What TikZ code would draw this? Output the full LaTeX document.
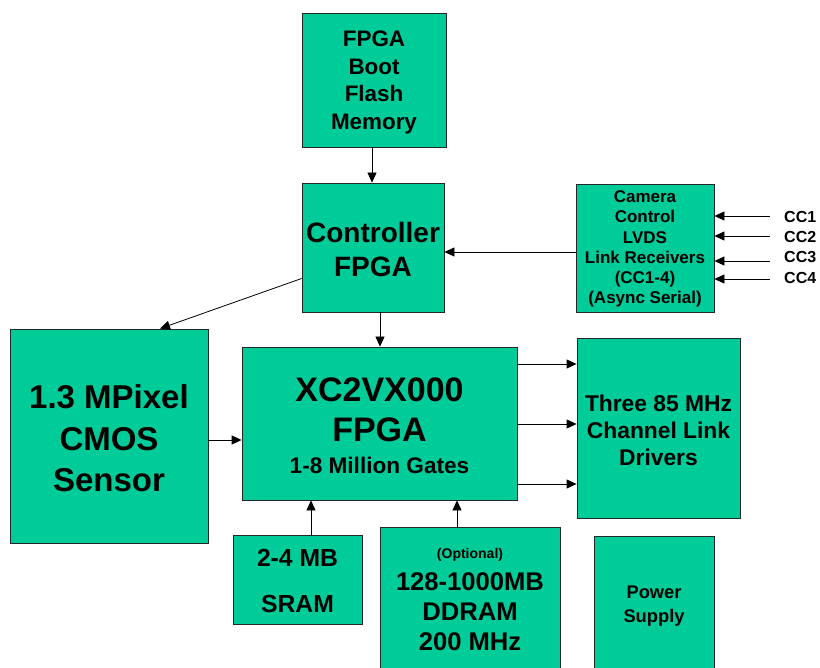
\documentclass[tikz,border=0pt]{standalone}
\usepackage{fontspec}
\setmainfont{Liberation Sans}
\usetikzlibrary{arrows.meta}
\definecolor{boxgreen}{HTML}{00CC99}
\tikzset{
  box/.style={draw=black!85, line width=0.8pt, fill=boxgreen, inner sep=0pt},
  txt/.style={inner sep=0pt, align=center},
  fs/.style 2 args={font=\bfseries\fontsize{#1}{#2}\selectfont},
  arr/.style={draw=black, line width=0.8pt, -{Triangle[length=10pt,width=9pt]}},
  cclabel/.style={inner sep=0pt, anchor=west, font=\bfseries\fontsize{16}{19}\selectfont}
}
\begin{document}
\begin{tikzpicture}[x=1pt,y=-1pt]
\useasboundingbox (0,0) rectangle (820,668);
% boxes
\node[box, minimum width=144pt, minimum height=134pt] (flash) at (374,80) {};
\node[box, minimum width=142pt, minimum height=129pt] (ctrl) at (373,247.5) {};
\node[box, minimum width=138pt, minimum height=128pt] (cam) at (645,248) {};
\node[box, minimum width=198pt, minimum height=214pt] (sensor) at (109,436) {};
\node[box, minimum width=275pt, minimum height=153pt] (xc) at (379.5,423.5) {};
\node[box, minimum width=163pt, minimum height=180pt] (three) at (658.5,428) {};
\node[box, minimum width=129pt, minimum height=89pt] (sram) at (297.5,579.5) {};
\node[box, minimum width=180pt, minimum height=143pt] (ddram) at (470,598.5) {};
\node[box, minimum width=120pt, minimum height=134pt] (power) at (654,603) {};
% box texts
\node[txt, fs={22.4}{27.5}] (flash-t) at (374,82.5) {FPGA\\Boot\\Flash\\Memory};
\node[txt, fs={28}{34}] (ctrl-t) at (373,249.5) {Controller\\FPGA};
\node[txt, fs={17}{20.2}] (cam-t) at (645,249) {Camera\\Control\\LVDS\\Link Receivers\\(CC1-4)\\(Async Serial)};
\node[txt, fs={33}{41.5}] (sensor-t) at (109,438.5) {1.3 MPixel\\CMOS\\Sensor};
\node[txt, fs={34}{40}] (xc-t) at (379.5,426) {XC2VX000\\FPGA\\[-8pt]{\fontsize{22.6}{27}\selectfont 1-8 Million Gates}};
\node[txt, fs={22.8}{27}] (three-t) at (658.5,430) {Three 85 MHz\\Channel Link\\Drivers};
\node[txt, fs={24.7}{46}] (sram-t) at (297.5,581) {2-4 MB\\SRAM};
\node[txt, fs={25.6}{30}] (ddram-t) at (470,599.5) {{\fontsize{14}{17}\selectfont (Optional)}\\[1.2pt]128-1000MB\\DDRAM\\200 MHz};
\node[txt, fs={18.3}{24}] (power-t) at (654,606) {Power\\Supply};
% CC labels
\node[cclabel] (cc1) at (784,217) {CC1};
\node[cclabel] (cc2) at (784,237) {CC2};
\node[cclabel] (cc3) at (784,257) {CC3};
\node[cclabel] (cc4) at (784,278) {CC4};
% connectors
\draw[arr] ([xshift=-2pt]flash.south) -- ([xshift=-2pt]flash.south |- ctrl.north);
\draw[arr] ([yshift=-4pt]cam.west) -- ([yshift=-4pt]cam.west -| ctrl.east);
\draw[arr] ([yshift=-31pt]ctrl.west) -- ([xshift=51pt]sensor.north);
\draw[arr] ([xshift=7pt]ctrl.south) -- ([xshift=7pt]ctrl.south |- xc.north);
\draw[arr] ([yshift=-4pt]sensor.east) -- ([yshift=-4pt]sensor.east -| xc.west);
\draw[arr] ([yshift=59.5pt]xc.east) -- ([yshift=59.5pt]xc.east -| three.west);
\draw[arr] ([yshift=-0.5pt]xc.east) -- ([yshift=-0.5pt]xc.east -| three.west);
\draw[arr] ([yshift=-60.5pt]xc.east) -- ([yshift=-60.5pt]xc.east -| three.west);
\draw[arr] ([xshift=13.5pt]sram.north) -- ([xshift=13.5pt]sram.north |- xc.south);
\draw[arr] ([xshift=-13pt]ddram.north) -- ([xshift=-13pt]ddram.north |- xc.south);
\draw[arr] ([xshift=-14pt,yshift=1pt]cc1.west) -- ([yshift=1pt]cc1.west -| cam.east);
\draw[arr] ([xshift=-14pt,yshift=1pt]cc2.west) -- ([yshift=1pt]cc2.west -| cam.east);
\draw[arr] ([xshift=-14pt,yshift=-4pt]cc3.west) -- ([yshift=-4pt]cc3.west -| cam.east);
\draw[arr] ([xshift=-14pt,yshift=-1pt]cc4.west) -- ([yshift=-1pt]cc4.west -| cam.east);
\end{tikzpicture}
\end{document}
